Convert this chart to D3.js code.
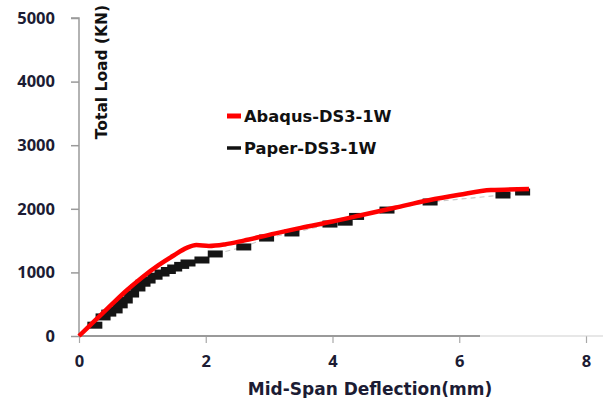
<!DOCTYPE html>
<html>
<head>
<meta charset="utf-8">
<script src="https://cdn.jsdelivr.net/npm/d3@7"></script>
<style>
  body { margin: 0; background: #fff; }
  svg { display: block; }
  .tick text { font-family: "Open Sans", sans-serif; font-weight: 700; fill: #1c1c34; }
  .lbl { font-family: "DejaVu Sans", sans-serif; font-weight: 700; }
</style>
</head>
<body>
<svg id="chart" width="603" height="398"></svg>
<script>
// Abaqus FE curve (deflection mm, load kN)
const abaqusX = [0, 0.25, 0.5, 0.75, 1.0, 1.25, 1.5, 1.7, 1.85, 2.05, 2.3, 2.6, 3.0, 3.5, 4.0, 4.5, 5.0, 5.5, 6.0, 6.5, 7.1];
const abaqusY = [0, 240, 480, 715, 925, 1110, 1270, 1385, 1430, 1415, 1440, 1500, 1590, 1700, 1800, 1910, 2020, 2130, 2220, 2295, 2310];

// Paper test points
const paperX = [0.25, 0.38, 0.47, 0.57, 0.65, 0.73, 0.83, 0.93, 1.01, 1.09, 1.2, 1.31, 1.41, 1.51, 1.62, 1.72, 1.94, 2.15, 2.6, 2.96, 3.36, 3.96, 4.2, 4.38, 4.86, 5.54, 6.69, 7.0];
const paperY = [170, 300, 360, 410, 490, 566, 660, 755, 830, 880, 940, 990, 1030, 1069, 1110, 1148, 1195, 1290, 1400, 1540, 1620, 1760, 1790, 1880, 1980, 2107, 2217, 2264];

const xTicks = [0, 2, 4, 6, 8];
const yTicks = [0, 1000, 2000, 3000, 4000, 5000];

const legendNames = ["Abaqus-DS3-1W", "Paper-DS3-1W"];
const legendColors = ["#ff0000", "#111111"];

let chart = d3.select("#chart");

let x = d3.scaleLinear().domain([0, 8]).range([79, 586]);
let y = d3.scaleLinear().domain([0, 5000]).range([336, 18]);

// y axis
let yAxis = d3.axisLeft(y).tickValues(yTicks).tickSize(8).tickPadding(16).tickFormat(d3.format("d"));
let yAxisGroup = chart.append("g")
    .attr("transform", "translate(" + x(0) + ",0)")
    .call(yAxis);
yAxisGroup.selectAll("path, line").attr("stroke", "#9a9a9a").attr("stroke-width", 1.5);
yAxisGroup.select(".domain").attr("d", "M-8," + y(5000) + "H0V" + y(0));
yAxisGroup.selectAll("text").style("font-size", "16.5px");

// x axis
let xAxis = d3.axisBottom(x).tickValues(xTicks).tickSize(7).tickPadding(12);
let xAxisGroup = chart.append("g")
    .attr("transform", "translate(0," + y(0) + ")")
    .call(xAxis);
xAxisGroup.select(".domain").remove();
xAxisGroup.selectAll("line").attr("stroke", "#a8a8a8").attr("stroke-width", 1.2);
xAxisGroup.selectAll("text").style("font-size", "16.5px");

// x baseline (darker part, then faded)
chart.append("line")
    .attr("x1", x(0)).attr("x2", 480)
    .attr("y1", y(0)).attr("y2", y(0))
    .attr("stroke", "#9a9a9a").attr("stroke-width", 1.8);
chart.append("line")
    .attr("x1", 480).attr("x2", 603)
    .attr("y1", y(0)).attr("y2", y(0))
    .attr("stroke", "#d0d0d0").attr("stroke-width", 1.2);

// axis titles
chart.append("text")
    .attr("class", "lbl")
    .text("Mid-Span Deflection(mm)")
    .attr("x", 370)
    .attr("y", 389)
    .attr("dy", "0.35em")
    .attr("text-anchor", "middle")
    .style("font-size", "17px")
    .style("fill", "#1c1c34");

chart.append("text")
    .attr("class", "lbl")
    .text("Total Load (KN)")
    .attr("transform", "translate(102,72) rotate(-90)")
    .attr("dy", "0.35em")
    .attr("text-anchor", "middle")
    .style("font-size", "15.5px")
    .style("fill", "#111");

// paper series: faint dashed link + dash markers
let paper = paperX.map((d, i) => ({ x: d, y: paperY[i] }));
chart.append("path")
    .datum(paper)
    .attr("fill", "none")
    .attr("stroke", "#c8c8c8")
    .attr("stroke-width", 1.2)
    .attr("stroke-dasharray", "5,4")
    .attr("d", d3.line().x(d => x(d.x)).y(d => y(d.y)));

chart.selectAll(".pt")
    .data(paper)
    .enter().append("rect")
    .attr("class", "pt")
    .attr("x", d => x(d.x) - 7.5)
    .attr("y", d => y(d.y) - 3.5)
    .attr("width", 15)
    .attr("height", 7)
    .attr("fill", "#151515");

// abaqus line
let abaqus = abaqusX.map((d, i) => ({ x: d, y: abaqusY[i] }));
chart.append("path")
    .datum(abaqus)
    .attr("fill", "none")
    .attr("stroke", "#ff0000")
    .attr("stroke-width", 4.5)
    .attr("stroke-linejoin", "round")
    .attr("d", d3.line().curve(d3.curveMonotoneX).x(d => x(d.x)).y(d => y(d.y)));

// legend
legendNames.forEach((name, i) => {
    let ly = 116 + i * 32;
    chart.append("line")
        .attr("x1", 227).attr("x2", 241)
        .attr("y1", ly).attr("y2", ly)
        .attr("stroke", legendColors[i])
        .attr("stroke-width", i === 0 ? 5 : 3.5);
    chart.append("text")
        .attr("class", "lbl")
        .text(name)
        .attr("x", 244)
        .attr("y", ly)
        .attr("dy", "0.35em")
        .style("font-size", "16.3px")
        .style("fill", "#111");
});
</script>
</body>
</html>
